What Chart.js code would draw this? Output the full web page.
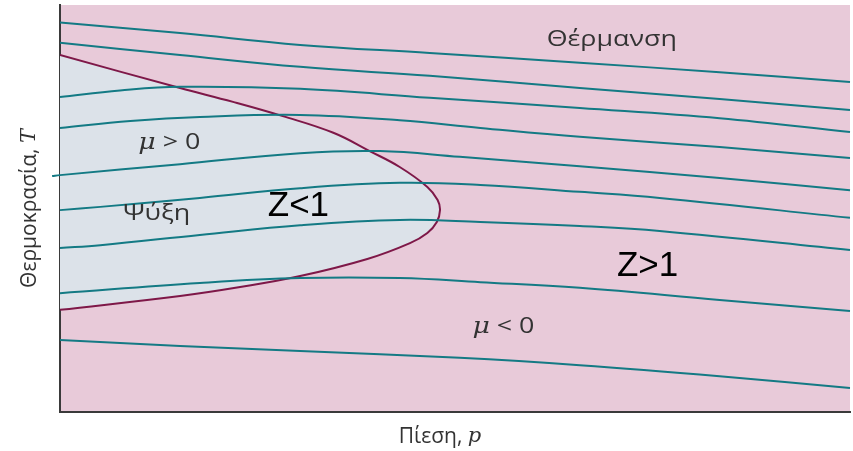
<!DOCTYPE html>
<html>
<head>
<meta charset="utf-8">
<script src="https://cdn.jsdelivr.net/npm/chart.js@4.4.1/dist/chart.umd.min.js"></script>
<style>
  html, body { margin: 0; padding: 0; background: #ffffff; }
  #wrap { width: 853px; height: 451px; }
</style>
</head>
<body>
<div id="wrap"><canvas id="jtChart"></canvas></div>
<script>
// Isenthalps, top to bottom, as [pressure, temperature] pairs (0-100 on both axes)
const isenthalp1 = [[0, 95.7], [15.2, 93.1], [30.4, 90.2], [46.8, 88.2], [65.8, 85.8], [83.5, 83.5], [100, 81.1]];
const isenthalp2 = [[0, 90.7], [15.2, 87.7], [30.4, 84.8], [46.8, 82.6], [65.8, 79.6], [83.5, 76.9], [100, 74.2]];
const isenthalp3 = [[0, 77.4], [7.6, 79.0], [15.2, 79.9], [30.4, 79.4], [46.8, 77.2], [65.8, 74.7], [83.5, 72.2], [100, 68.8]];
const isenthalp4 = [[0, 69.8], [8.9, 71.5], [17.7, 72.5], [30.4, 73.0], [43.0, 71.7], [53.2, 69.8], [65.8, 67.6], [83.5, 65.1], [100, 62.4]];
const isenthalp5 = [[-1.0, 58.0], [0, 58.2], [15.2, 60.9], [30.4, 63.6], [40.5, 64.1], [50.6, 62.7], [65.8, 60.4], [83.5, 57.5], [100, 54.5]];
const isenthalp6 = [[0, 49.6], [5.1, 50.4], [17.7, 52.6], [30.4, 55.0], [43.0, 56.3], [53.2, 55.8], [65.8, 54.1], [75.9, 52.6], [100, 47.7]];
const isenthalp7 = [[0, 40.3], [5.1, 41.0], [17.7, 43.5], [30.4, 45.9], [43.0, 47.2], [53.2, 46.7], [65.8, 45.7], [75.9, 44.5], [100, 39.8]];
const isenthalp8 = [[0, 29.2], [17.7, 31.7], [30.4, 32.9], [43.0, 32.9], [53.2, 31.9], [65.8, 30.5], [83.5, 27.5], [100, 24.8]];
const isenthalp9 = [[0, 17.7], [15.2, 16.2], [30.4, 15.0], [50.6, 13.3], [65.8, 11.5], [83.5, 8.8], [100, 5.9]];

// Inversion curve, traced from the upper branch round the nose to the lower branch
const inversionCurve = [
  [0, 87.7], [15.2, 79.6], [21.9, 76.2], [28.2, 72.7], [34.6, 68.6], [39.2, 64.1],
  [43.0, 60.2], [46.5, 55.3], [47.8, 52.1], [48.1, 49.6], [47.7, 46.7], [46.5, 44.0],
  [44.3, 41.5], [38.9, 37.6], [30.4, 33.4], [22.8, 30.7], [15.2, 28.5], [0, 25.1]
];

const isenthalps = [isenthalp1, isenthalp2, isenthalp3, isenthalp4, isenthalp5,
                    isenthalp6, isenthalp7, isenthalp8, isenthalp9];

// Text drawn inside and around the plot
const regionLabels = ['Θέρμανση', 'Ψύξη', 'Z<1', 'Z>1'];
const muLabels = ['μ > 0', 'μ < 0'];
const axisTitles = ['Πίεση, p', 'Θερμοκρασία, T'];

const toPoints = pairs => pairs.map(([p, t]) => ({ x: p, y: t }));

const PINK = '#e8cad9';
const COOL = '#dce2e9';
const TEAL = '#137a84';
const CURVE = '#7e1848';
const INK = '#333333';

const datasets = isenthalps.map(line => ({
  data: toPoints(line),
  borderColor: TEAL,
  borderWidth: 2,
  pointRadius: 0,
  tension: 0.4,
  fill: false,
  clip: false,
  order: 1
}));

// inversion curve runs along the temperature axis so it can fill back to p = 0
datasets.push({
  data: toPoints(inversionCurve),
  indexAxis: 'y',
  borderColor: CURVE,
  borderWidth: 2,
  backgroundColor: COOL,
  pointRadius: 0,
  tension: 0.4,
  fill: { value: 0 },
  order: 2
});

const plotBackground = {
  id: 'plotBackground',
  beforeDraw(chart) {
    const { ctx, chartArea: a } = chart;
    ctx.save();
    ctx.fillStyle = PINK;
    ctx.fillRect(a.left, a.top, a.right - a.left, a.bottom - a.top);
    ctx.restore();
  }
};

// draws a run of differently styled pieces, optionally widened by sx
function drawRun(ctx, parts, x, y, sx) {
  ctx.save();
  ctx.translate(x, y);
  ctx.scale(sx, 1);
  let cx = 0;
  parts.forEach(p => {
    ctx.font = p.font;
    ctx.fillText(p.text, cx, 0);
    cx += ctx.measureText(p.text).width;
  });
  ctx.restore();
}

function runWidth(ctx, parts) {
  let w = 0;
  parts.forEach(p => {
    ctx.font = p.font;
    w += ctx.measureText(p.text).width;
  });
  return w;
}

const plotText = {
  id: 'plotText',
  afterDatasetsDraw(chart) {
    const { ctx, scales: { x, y }, chartArea: a } = chart;
    const greek = '22px "Open Sans", sans-serif';
    const greekItalic = 'italic 22px "DejaVu Serif", serif';
    const big = '35px "Liberation Sans", Arial, sans-serif';
    const wide = 1.22;
    ctx.save();
    ctx.textBaseline = 'middle';
    ctx.textAlign = 'left';

    ctx.fillStyle = INK;
    drawRun(ctx, [{ text: regionLabels[0], font: greek }],
      x.getPixelForValue(61.6), y.getPixelForValue(91.4), wide);
    drawRun(ctx, [{ text: regionLabels[1], font: greek }],
      x.getPixelForValue(8.0), y.getPixelForValue(48.6), wide);

    muLabels.forEach((label, i) => {
      const pos = i === 0 ? [9.9, 66.1] : [52.2, 20.9];
      drawRun(ctx, [{ text: label.charAt(0), font: greekItalic }, { text: label.slice(1), font: greek }],
        x.getPixelForValue(pos[0]), y.getPixelForValue(pos[1]), wide);
    });

    ctx.fillStyle = '#000000';
    ctx.font = big;
    ctx.fillText(regionLabels[2], x.getPixelForValue(26.3), y.getPixelForValue(50.6));
    ctx.fillText(regionLabels[3], x.getPixelForValue(70.5), y.getPixelForValue(35.9));

    // axis titles: plain word, then the italic variable symbol
    ctx.fillStyle = INK;
    const titleParts = title => {
      const [word, sym] = title.split(', ');
      return [
        { text: word + ', ', font: '21px "Open Sans", sans-serif' },
        { text: sym, font: 'italic 21px "DejaVu Serif", serif' }
      ];
    };
    const xt = titleParts(axisTitles[0]);
    drawRun(ctx, xt, 440 - runWidth(ctx, xt) / 2, a.bottom + 25, 1);

    const yt = titleParts(axisTitles[1]);
    ctx.save();
    ctx.translate(a.left - 30, (a.top + a.bottom) / 2);
    ctx.rotate(-Math.PI / 2);
    drawRun(ctx, yt, -runWidth(ctx, yt) / 2, 0, 1);
    ctx.restore();

    ctx.restore();
  }
};

new Chart(document.getElementById('jtChart'), {
  type: 'line',
  data: { datasets: datasets },
  options: {
    responsive: true,
    maintainAspectRatio: false,
    animation: false,
    layout: { padding: { left: 60, top: 5, right: 3, bottom: 39 } },
    plugins: {
      legend: { display: false },
      tooltip: { enabled: false }
    },
    scales: {
      x: {
        type: 'linear',
        min: 0,
        max: 100,
        grid: { display: false, drawTicks: false },
        ticks: { display: false },
        border: { display: true, color: '#3a3a3a', width: 2 }
      },
      y: {
        type: 'linear',
        min: 0,
        max: 100,
        grid: { display: false, drawTicks: false },
        ticks: { display: false },
        border: { display: true, color: '#3a3a3a', width: 2 }
      }
    }
  },
  plugins: [plotBackground, plotText]
});
</script>
</body>
</html>
